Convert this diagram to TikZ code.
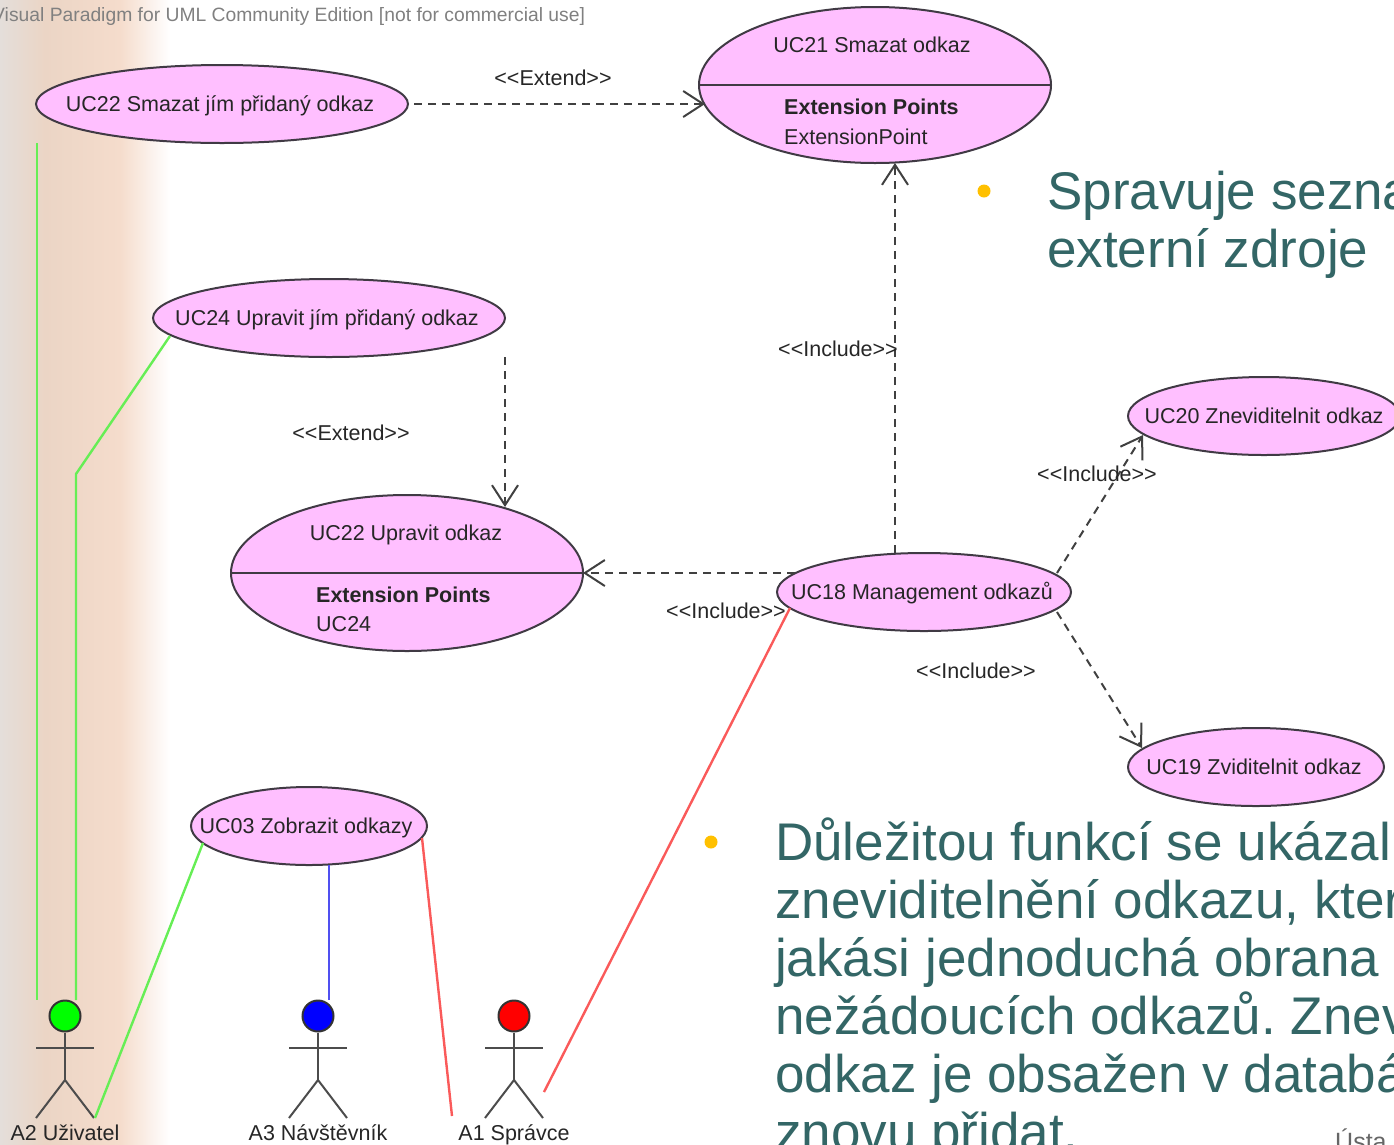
\documentclass[tikz,border=0pt]{standalone}
\usepackage{fontspec}
\setmainfont{Liberation Sans}
\usetikzlibrary{shapes.geometric}
\usetikzlibrary{arrows.meta}
\definecolor{ucpink}{HTML}{FFBFFF}
\definecolor{ucedge}{HTML}{403A44}
\definecolor{assocgreen}{HTML}{66EE55}
\definecolor{assocblue}{HTML}{5050F0}
\definecolor{assocred}{HTML}{FA5A5A}
\definecolor{slidetext}{HTML}{336666}
\definecolor{slidebullet}{HTML}{FFC000}
\definecolor{bandgrey}{HTML}{E4DEDA}
\definecolor{bandtan}{HTML}{EBD5C5}
\definecolor{bandpeach}{HTML}{F5DCCC}
\frenchspacing
\setlength{\lineskiplimit}{-30pt}
\setlength{\normallineskiplimit}{-30pt}
\tikzset{
  usecase/.style={ellipse, draw=ucedge, fill=ucpink, line width=2pt, inner sep=0pt, outer sep=0pt},
  uclabel/.style={inner sep=0pt, text height=14pt, text depth=0pt, text=black!85, font=\fontsize{21.5}{25}\selectfont},
  depend/.style={dash pattern=on 8pt off 6pt, line width=2pt, draw=black!75, -{Straight Barb[length=20pt, width=26pt, line width=2pt]}},
  assoc/.style={line width=2.4pt},
  stickman/.style={line width=2pt, draw=black!70},
  actorhead/.style={circle, draw=black!80, line width=2pt, minimum size=31pt, inner sep=0pt},
  slidetxt/.style={inner sep=0pt, align=left, anchor=north west, text=slidetext, font=\fontsize{53}{58}\selectfont},
  bulletdot/.style={circle, fill=slidebullet, minimum size=13pt, inner sep=0pt}
}
\begin{document}
\begin{tikzpicture}[x=1pt, y=-1pt]
            \useasboundingbox (0, 0) rectangle (1394, 1144);
            \clip (0, 0) rectangle (1394, 1144);

            % Background
            \fill[left color=bandgrey, right color=bandtan] (0, 0) rectangle (45, 1144);
            \fill[left color=bandtan, right color=bandpeach] (45, 0) rectangle (120, 1144);
            \fill[left color=bandpeach, right color=white] (120, 0) rectangle (170, 1144);

            % Nodes
            \node[uclabel, text=black!50, anchor=base west, font=\fontsize{19.3}{23}\selectfont] (mark) at (-8, 21) {Visual Paradigm for UML Community Edition [not for commercial use]};
            \node[usecase, minimum width=372pt, minimum height=78pt] (uc22s) at (222, 104) {};
            \node[usecase, minimum width=352pt, minimum height=156pt] (uc21) at (875, 85) {};
            \node[usecase, minimum width=352pt, minimum height=78pt] (uc24) at (329, 318) {};
            \node[usecase, minimum width=352pt, minimum height=156pt] (uc22u) at (407, 573) {};
            \node[usecase, minimum width=294pt, minimum height=78pt] (uc18) at (924, 592) {};
            \node[usecase, minimum width=272pt, minimum height=78pt] (uc20) at (1264, 416) {};
            \node[usecase, minimum width=256pt, minimum height=78pt] (uc19) at (1256, 767) {};
            \node[usecase, minimum width=236pt, minimum height=78pt] (uc03) at (309, 826) {};

            % Use case texts
            \node[uclabel] (uc22stxt) at (220, 104) {UC22 Smazat jím přidaný odkaz};
            \node[uclabel] (uc21txt) at (872, 45) {UC21 Smazat odkaz};
            \node[uclabel, anchor=west] (uc21ep) at (784, 107) {\textbf{Extension Points}};
            \node[uclabel, anchor=west] (uc21pt) at (784, 137) {ExtensionPoint};
            \node[uclabel] (uc24txt) at (327, 318) {UC24 Upravit jím přidaný odkaz};
            \node[uclabel] (uc22utxt) at (406, 533) {UC22 Upravit odkaz};
            \node[uclabel, anchor=west] (uc22uep) at (316, 595) {\textbf{Extension Points}};
            \node[uclabel, anchor=west] (uc22upt) at (316, 624) {UC24};
            \node[uclabel] (uc18txt) at (922, 592) {UC18 Management odkazů};
            \node[uclabel] (uc20txt) at (1264, 416) {UC20 Zneviditelnit odkaz};
            \node[uclabel] (uc19txt) at (1254, 767) {UC19 Zviditelnit odkaz};
            \node[uclabel] (uc03txt) at (306, 826) {UC03 Zobrazit odkazy};

            % Compartment lines
            \draw[draw=ucedge, line width=2pt] (uc21.west) -- (uc21.east);
            \draw[draw=ucedge, line width=2pt] (uc22u.west) -- (uc22u.east);

            % Actors
            \foreach \name/\px/\headcol/\actortxt in {a2/65/green/A2 Uživatel, a3/318/blue/A3 Návštěvník, a1/514/red/A1 Správce} {
              \node[actorhead, fill=\headcol] (\name) at (\px, 1016) {};
              \coordinate (\name hip) at (\px, 1080);
              \coordinate (\name arml) at (\px-29, 1048);
              \coordinate (\name armr) at (\px+29, 1048);
              \coordinate (\name footl) at (\px-29, 1118);
              \coordinate (\name footr) at (\px+29, 1118);
              \draw[stickman] (\name) -- (\name hip);
              \draw[stickman] (\name arml) -- (\name armr);
              \draw[stickman] (\name footl) -- (\name hip) -- (\name footr);
              \node[uclabel] (\name txt) at (\px, 1133) {\actortxt};
            }

            % Free ends of the edges
            \coordinate (g1top) at (37, 143);
            \coordinate (g1end) at (37, 1000);
            \coordinate (g2start) at (170, 336);
            \coordinate (g2bend) at (76, 474);
            \coordinate (g2end) at (76, 1000);
            \coordinate (g3start) at (203, 843);
            \coordinate (g3end) at (95, 1118);
            \coordinate (b1start) at (329, 865);
            \coordinate (b1end) at (329, 1000);
            \coordinate (r1start) at (422, 838);
            \coordinate (r1end) at (452, 1116);
            \coordinate (r2start) at (790, 608);
            \coordinate (r2end) at (544, 1092);
            \coordinate (d1start) at (414, 104);
            \coordinate (d1end) at (705, 104);
            \coordinate (d2start) at (895, 553);
            \coordinate (d2end) at (895, 163);
            \coordinate (d3start) at (505, 357);
            \coordinate (d3end) at (505, 507);
            \coordinate (d4start) at (795, 573);
            \coordinate (d4end) at (583, 573);
            \coordinate (d5start) at (1057, 573);
            \coordinate (d5end) at (1143, 435);
            \coordinate (d6start) at (1057, 612);
            \coordinate (d6end) at (1142, 748);

            % Edges
            \draw[assoc, assocgreen] (g1top) -- (g1end);
            \draw[assoc, assocgreen] (g2start) -- (g2bend) -- (g2end);
            \draw[assoc, assocgreen] (g3start) -- (g3end);
            \draw[assoc, assocblue] (b1start) -- (b1end);
            \draw[assoc, assocred] (r1start) -- (r1end);
            \draw[assoc, assocred] (r2start) -- (r2end);
            \draw[depend] (d1start) -- (d1end);
            \draw[depend] (d2start) -- (d2end);
            \draw[depend] (d3start) -- (d3end);
            \draw[depend] (d4start) -- (d4end);
            \draw[depend] (d5start) -- (d5end);
            \draw[depend] (d6start) -- (d6end);

            % Edge labels
            \node[uclabel] (ext1) at (553, 78) {<{}<Extend>{}>};
            \node[uclabel] (ext2) at (351, 433) {<{}<Extend>{}>};
            \node[uclabel] (inc1) at (838, 349) {<{}<Include>{}>};
            \node[uclabel] (inc2) at (1097, 474) {<{}<Include>{}>};
            \node[uclabel] (inc3) at (726, 611) {<{}<Include>{}>};
            \node[uclabel] (inc4) at (976, 671) {<{}<Include>{}>};

            % Slide text
            \node[bulletdot] (bul1) at (984, 191) {};
            \node[bulletdot] (bul2) at (711, 842) {};
            \node[slidetxt] (para1) at (1047, 171) {Spravuje sezna\\externí zdroje};
            \node[slidetxt] (para2) at (775, 818) {Důležitou funkcí se ukázal\\zneviditelnění odkazu, kter\\jakási jednoduchá obrana\\nežádoucích odkazů. Znev\\odkaz je obsažen v databá\\znovu přidat.};
            \node[uclabel, anchor=base west, text=black!60, font=\fontsize{25}{30}\selectfont] (usta) at (1335, 1150) {Ústa};
        \end{tikzpicture}
\end{document}
